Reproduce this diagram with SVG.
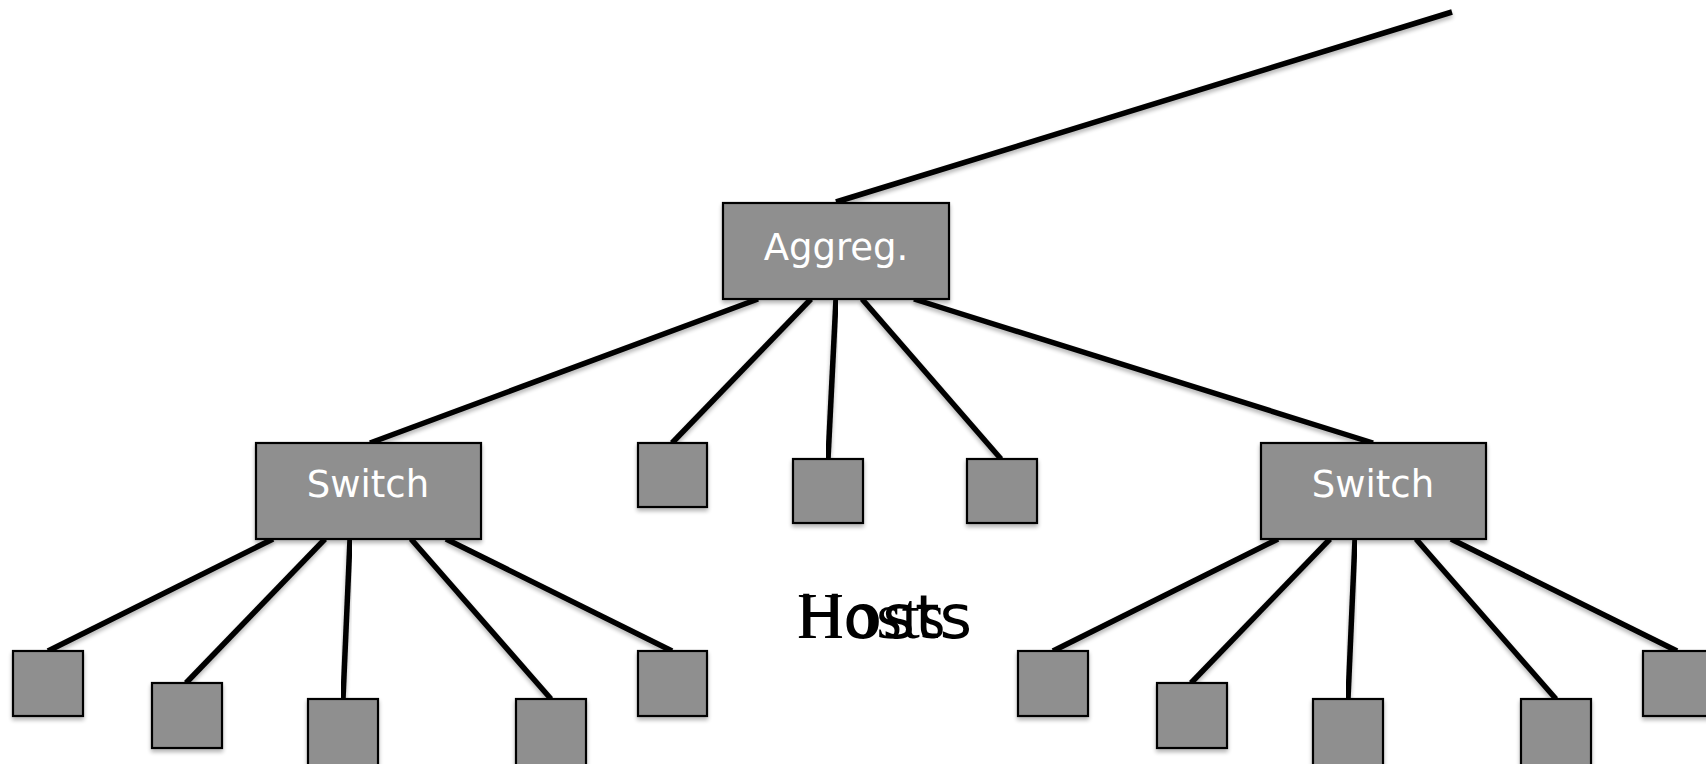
<svg xmlns="http://www.w3.org/2000/svg" width="1706" height="764" viewBox="0 0 1706 764">
<style>
.box{fill:#8f8f8f;stroke:#000;stroke-width:2.2;filter:url(#sh)}
.lbl{font-family:"DejaVu Sans",Verdana,sans-serif;font-size:37px;fill:#fff;text-anchor:middle}
.ln{stroke:#000;stroke-width:5.5;fill:none;filter:url(#sh)}
.host{font-family:"Liberation Serif","Times New Roman",serif;font-size:65px;fill:#000}
.host2{font-family:"DejaVu Sans",Verdana,sans-serif;font-size:60px;fill:#000}
</style>
<defs>
<filter id="sh" x="-20%" y="-20%" width="140%" height="160%">
<feGaussianBlur in="SourceAlpha" stdDeviation="2"/>
<feOffset dx="0" dy="3" result="b"/>
<feComponentTransfer><feFuncA type="linear" slope="0.3"/></feComponentTransfer>
<feMerge><feMergeNode/><feMergeNode in="SourceGraphic"/></feMerge>
</filter>
</defs>
<rect width="1706" height="764" fill="#fff"/>
<g id="connectors">
<line class="ln" x1="836" y1="202" x2="1452" y2="12"/>
<line class="ln" x1="758" y1="299" x2="370" y2="443"/>
<line class="ln" x1="811" y1="299" x2="672" y2="443"/>
<line class="ln" x1="836" y1="299" x2="828" y2="459"/>
<line class="ln" x1="862" y1="299" x2="1001" y2="459"/>
<line class="ln" x1="914" y1="299" x2="1373" y2="443"/>
<line class="ln" x1="273" y1="539" x2="48" y2="651"/>
<line class="ln" x1="325" y1="539" x2="186" y2="683"/>
<line class="ln" x1="350" y1="539" x2="343" y2="699"/>
<line class="ln" x1="411" y1="539" x2="551" y2="699"/>
<line class="ln" x1="446" y1="539" x2="672" y2="651"/>
<line class="ln" x1="1278" y1="539" x2="1053" y2="651"/>
<line class="ln" x1="1330" y1="539" x2="1191" y2="683"/>
<line class="ln" x1="1355" y1="539" x2="1348" y2="699"/>
<line class="ln" x1="1416" y1="539" x2="1556" y2="699"/>
<line class="ln" x1="1451" y1="539" x2="1677" y2="651"/>
</g>
<g id="aggreg"><rect class="box" x="723" y="203" width="226" height="96"/><text class="lbl" x="836" y="260">Aggreg.</text></g>
<g id="switch-left"><rect class="box" x="256" y="443" width="225" height="96"/><text class="lbl" x="368" y="497">Switch</text></g>
<g id="switch-right"><rect class="box" x="1261" y="443" width="225" height="96"/><text class="lbl" x="1373" y="497">Switch</text></g>
<g id="host-m1"><rect class="box" x="638" y="443" width="69" height="64"/></g>
<g id="host-m2"><rect class="box" x="793" y="459" width="70" height="64"/></g>
<g id="host-m3"><rect class="box" x="967" y="459" width="70" height="64"/></g>
<g id="host-l1"><rect class="box" x="13" y="651" width="70" height="65"/></g>
<g id="host-l2"><rect class="box" x="152" y="683" width="70" height="65"/></g>
<g id="host-l3"><rect class="box" x="308" y="699" width="70" height="70"/></g>
<g id="host-l4"><rect class="box" x="516" y="699" width="70" height="70"/></g>
<g id="host-l5"><rect class="box" x="638" y="651" width="69" height="65"/></g>
<g id="host-r1"><rect class="box" x="1018" y="651" width="70" height="65"/></g>
<g id="host-r2"><rect class="box" x="1157" y="683" width="70" height="65"/></g>
<g id="host-r3"><rect class="box" x="1313" y="699" width="70" height="70"/></g>
<g id="host-r4"><rect class="box" x="1521" y="699" width="70" height="70"/></g>
<g id="host-r5"><rect class="box" x="1643" y="651" width="70" height="65"/></g>
<g id="hosts-label">
<text class="host" x="797" y="638">Hosts</text>
<text class="host2" x="797" y="638" textLength="175" lengthAdjust="spacingAndGlyphs">Hosts</text>
</g>
</svg>
